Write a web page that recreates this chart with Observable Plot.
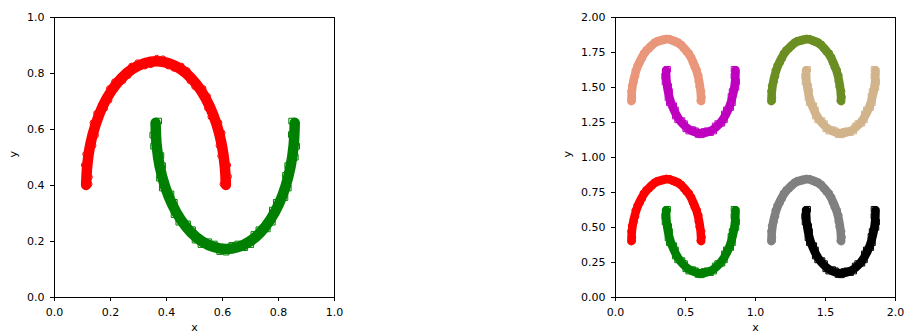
<!DOCTYPE html>
<html>
<head>
<meta charset="utf-8">
<script src="https://cdn.jsdelivr.net/npm/d3@7"></script>
<script src="https://cdn.jsdelivr.net/npm/@observablehq/plot@0.6"></script>
<style>
  html, body { margin: 0; padding: 0; background: #fff; }
  #fig { position: relative; width: 908px; height: 333px; overflow: hidden; }
  #fig svg { position: absolute; top: 0; }
</style>
</head>
<body>
<div id="fig"></div>
<script>
// Two interleaving half moons, normalised to the unit square.
// Centre line of each moon, from one tip to the other.
const upperMoon = [
  [0.113, 0.402], [0.117, 0.471], [0.128, 0.547], [0.147, 0.618], [0.172, 0.683],
  [0.203, 0.738], [0.239, 0.783], [0.279, 0.817], [0.321, 0.837], [0.365, 0.844],
  [0.408, 0.837], [0.449, 0.817], [0.489, 0.783], [0.524, 0.738], [0.554, 0.683],
  [0.579, 0.618], [0.597, 0.547], [0.608, 0.471], [0.612, 0.402]
];
const lowerMoon = [
  [0.361, 0.624], [0.365, 0.542], [0.376, 0.467], [0.395, 0.396], [0.420, 0.333],
  [0.451, 0.278], [0.487, 0.233], [0.527, 0.200], [0.569, 0.180], [0.613, 0.173],
  [0.656, 0.180], [0.697, 0.200], [0.736, 0.233], [0.771, 0.278], [0.801, 0.333],
  [0.825, 0.396], [0.843, 0.467], [0.854, 0.542], [0.858, 0.624]
];

// Samples scattered along the edges of each moon.
const upperSamples = [
  [0.622, 0.432], [0.593, 0.506], [0.599, 0.588], [0.558, 0.645], [0.547, 0.719],
  [0.500, 0.753], [0.474, 0.811], [0.426, 0.818], [0.387, 0.853], [0.344, 0.831],
  [0.297, 0.839], [0.263, 0.792], [0.214, 0.771], [0.195, 0.704], [0.150, 0.658],
  [0.147, 0.579], [0.111, 0.512], [0.125, 0.430],
  [0.601, 0.405], [0.619, 0.473], [0.587, 0.543], [0.588, 0.624], [0.546, 0.676],
  [0.531, 0.747], [0.483, 0.774], [0.453, 0.827], [0.406, 0.826], [0.365, 0.855],
  [0.323, 0.826], [0.275, 0.827], [0.245, 0.774], [0.196, 0.747], [0.180, 0.676],
  [0.137, 0.624], [0.138, 0.543], [0.106, 0.473], [0.124, 0.405]
];
const lowerSamples = [
  [0.351, 0.580], [0.380, 0.507], [0.375, 0.426], [0.416, 0.370], [0.427, 0.296],
  [0.475, 0.263], [0.502, 0.205], [0.551, 0.199], [0.590, 0.164], [0.633, 0.186],
  [0.679, 0.178], [0.712, 0.225], [0.760, 0.245], [0.778, 0.312], [0.823, 0.357],
  [0.825, 0.436], [0.860, 0.501], [0.846, 0.582],
  [0.372, 0.630], [0.354, 0.540], [0.386, 0.471], [0.385, 0.391], [0.428, 0.340],
  [0.444, 0.269], [0.493, 0.242], [0.523, 0.189], [0.571, 0.191], [0.613, 0.162],
  [0.654, 0.191], [0.701, 0.189], [0.730, 0.242], [0.778, 0.269], [0.792, 0.340],
  [0.835, 0.391], [0.833, 0.471], [0.865, 0.540], [0.847, 0.630]
];

// Right panel: one pair of moons per unit cell.
const cellX = [0, 0, 1, 1];
const cellY = [0, 1, 1, 0];
const upperColors = ["red", "darksalmon", "olivedrab", "gray"];
const lowerColors = ["green", "#bf00bf", "tan", "black"];

// Tick values
const leftTicks = [0, 0.2, 0.4, 0.6, 0.8, 1.0];
const rightXTicks = [0, 0.5, 1.0, 1.5, 2.0];
const rightYTicks = [0, 0.25, 0.5, 0.75, 1.0, 1.25, 1.5, 1.75, 2.0];

const font = "DejaVu Sans, sans-serif";

function rows(points, dx, dy, color, key) {
  return points.map(([x, y]) => ({x: x + dx, y: y + dy, c: color, k: key}));
}

function moonMarks(lines, circles, squares, bandWidth) {
  return [
    Plot.line(lines, {x: "x", y: "y", z: "k", stroke: "c", strokeWidth: bandWidth,
      curve: "catmull-rom", strokeLinecap: "round", strokeLinejoin: "round"}),
    Plot.dot(circles, {x: "x", y: "y", stroke: "c", fill: "none", r: 2.8, strokeWidth: 1, symbol: "circle"}),
    Plot.dot(squares, {x: "x", y: "y", stroke: "c", fill: "none", r: 3.2, strokeWidth: 1, symbol: "square"})
  ];
}

function panel({width, marginLeft, marginRight, domain, xTicks, yTicks, xFormat, yFormat, yLabelDx, marks}) {
  return Plot.plot({
    width, height: 333,
    marginLeft, marginRight, marginTop: 17, marginBottom: 36,
    style: {fontFamily: font, fontSize: "11px", color: "black", background: "white", overflow: "visible"},
    x: {domain},
    y: {domain},
    color: {type: "identity"},
    marks: [
      ...marks,
      Plot.frame({stroke: "black", strokeWidth: 1}),
      Plot.axisX({ticks: xTicks, tickFormat: xFormat, tickSize: 4, tickPadding: 7, label: null, fontSize: 11}),
      Plot.axisY({ticks: yTicks, tickFormat: yFormat, tickSize: 4, tickPadding: 6, label: null, fontSize: 11}),
      Plot.text(["x"], {frameAnchor: "bottom", dy: 33, fontSize: 11}),
      Plot.text(["y"], {frameAnchor: "left", dx: yLabelDx, rotate: -90, fontSize: 11})
    ]
  });
}

// Left panel: the single pair of moons
const leftLines = [...rows(upperMoon, 0, 0, "red", "u"), ...rows(lowerMoon, 0, 0, "green", "l")];
const left = panel({
  width: 454, marginLeft: 54, marginRight: 120,
  domain: [0, 1], xTicks: leftTicks, yTicks: leftTicks,
  xFormat: ".1f", yFormat: ".1f", yLabelDx: -41,
  marks: moonMarks(leftLines, rows(upperSamples, 0, 0, "red", "u"), rows(lowerSamples, 0, 0, "green", "l"), 10.5)
});

// Right panel: four shifted pairs
const rightLines = cellX.flatMap((dx, i) => [
  ...rows(upperMoon, dx, cellY[i], upperColors[i], "u" + i),
  ...rows(lowerMoon, dx, cellY[i], lowerColors[i], "l" + i)
]);
const rightCircles = cellX.flatMap((dx, i) => rows(upperSamples, dx, cellY[i], upperColors[i], "u" + i));
const rightSquares = cellX.flatMap((dx, i) => rows(lowerSamples, dx, cellY[i], lowerColors[i], "l" + i));
const right = panel({
  width: 454, marginLeft: 161, marginRight: 13,
  domain: [0, 2], xTicks: rightXTicks, yTicks: rightYTicks,
  xFormat: ".1f", yFormat: ".2f", yLabelDx: -48,
  marks: moonMarks(rightLines, rightCircles, rightSquares, 8.5)
});

const fig = document.getElementById("fig");
left.style.left = "0px";
right.style.left = "454px";
fig.appendChild(left);
fig.appendChild(right);
</script>
</body>
</html>
